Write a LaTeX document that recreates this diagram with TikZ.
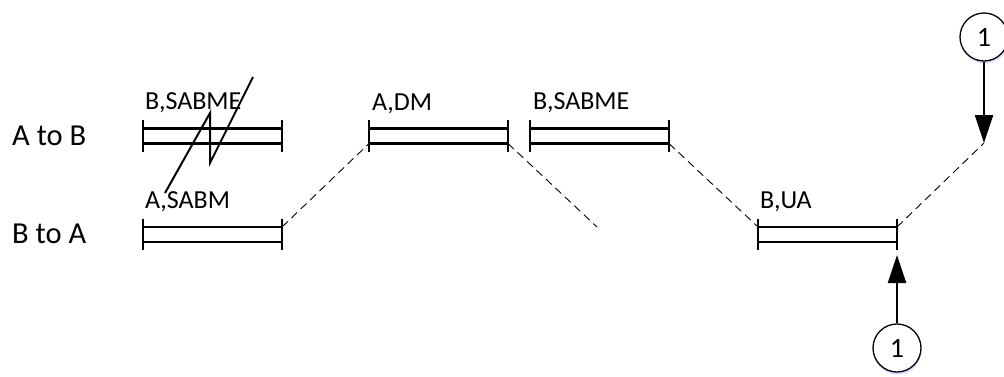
\documentclass[tikz,border=0pt]{standalone}
\usepackage{fontspec}
\setmainfont{Carlito}
\usetikzlibrary{arrows.meta,shadows}
\begin{document}
\begin{tikzpicture}[x=1pt,y=-1pt,
  framebox/.style={minimum width=139pt, minimum height=15pt, inner sep=0pt, outer sep=0pt},
  frameline/.style={line width=2.6pt, line cap=butt},
  lbl/.style={anchor=base west, inner sep=0pt, font=\fontsize{26}{30}\selectfont},
  rowlbl/.style={anchor=base west, inner sep=0pt, font=\fontsize{30.5}{36}\selectfont},
  conn/.style={line width=0.9pt, dash pattern=on 8pt off 5pt},
  circ/.style={circle, draw, line width=1.3pt, fill=white, minimum size=48pt, inner sep=0pt,
    font=\fontsize{28}{32}\selectfont,
    drop shadow={shadow xshift=0.5pt, shadow yshift=-2.5pt, fill=blue!15, opacity=1}},
  arr/.style={line width=2.4pt, -{Triangle[length=28pt, width=18pt]}},
  bolt/.style={line width=2pt, line join=miter}
]
\useasboundingbox (0,0) rectangle (1004,376);

% row labels
\node[rowlbl] (rab) at (12,145) {A to B};
\node[rowlbl] (rba) at (12,243) {B to A};

% frames
\node[framebox] (f1) at (212.5,136) {};
\node[framebox] (f2) at (438.5,136) {};
\node[framebox] (f3) at (599.5,136) {};
\node[framebox] (f4) at (212.5,234.5) {};
\node[framebox] (f5) at (827.5,234.5) {};

\foreach \n in {f1,f2,f3,f4,f5}{
  \draw[frameline] (\n.north west) -- (\n.north east);
  \draw[frameline] (\n.south west) -- (\n.south east);
  \draw[frameline] ([yshift=8.5pt]\n.north west) -- ([yshift=-8pt]\n.south west);
  \draw[frameline] ([yshift=8.5pt]\n.north east) -- ([yshift=-8pt]\n.south east);
}

% frame labels
\node[lbl] (l1) at (145,109) {B,SABME};
\node[lbl] (l2) at (372,110) {A,DM};
\node[lbl] (l3) at (533,109) {B,SABME};
\node[lbl] (l4) at (145,208) {A,SABM};
\node[lbl] (l5) at (760,208) {B,UA};

% lost-frame symbol
\draw[bolt] (253,77) -- (210,163) -- (210,113) -- (165,193);

% connector coordinates
\coordinate (e1) at (597,227);
\coordinate (t1) at (984,143);
\coordinate (t2) at (897,255);

% dashed transfers
\draw[conn] (f4.north east) -- (f2.south west);
\draw[conn] (f2.south east) -- (e1);
\draw[conn] (f3.south east) -- (f5.north west);
\draw[conn] (f5.north east) -- (t1);

% circles
\node[circ] (c1) at (984,37) {1};
\node[circ] (c2) at (897,348) {1};

% arrows
\draw[arr] (c1) -- (t1);
\draw[arr] (c2) -- (t2);
\end{tikzpicture}
\end{document}
